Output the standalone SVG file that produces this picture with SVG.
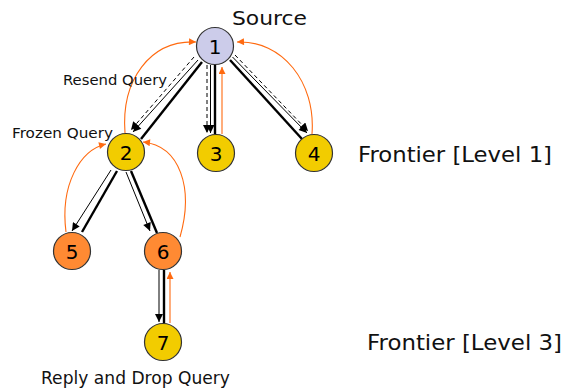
<svg xmlns="http://www.w3.org/2000/svg" width="566" height="390" viewBox="0 0 566 390">
<defs>
<marker id="ab" viewBox="0 0 10 10" refX="10" refY="5" markerWidth="9" markerHeight="8" markerUnits="userSpaceOnUse" orient="auto"><path d="M0,0 L10,5 L0,10 z" fill="#000"/></marker>
<marker id="ao" viewBox="0 0 10 10" refX="10" refY="5" markerWidth="8" markerHeight="7" markerUnits="userSpaceOnUse" orient="auto"><path d="M0,0 L10,5 L0,10 z" fill="#ff6a10"/></marker>
<style>
.t{font-family:"DejaVu Sans","Liberation Sans",sans-serif;fill:#111}
.n{font-family:"DejaVu Sans","Liberation Sans",sans-serif;font-size:20px;fill:#000;text-anchor:middle;dominant-baseline:central}
.c{stroke:#333;stroke-width:1.2}
.thick{stroke:#000;stroke-width:2.4;fill:none}
.thin{stroke:#000;stroke-width:1;fill:none;marker-end:url(#ab)}
.dash{stroke:#000;stroke-width:1;fill:none;stroke-dasharray:4 3;marker-end:url(#ab)}
.or{stroke:#ff6a10;stroke-width:1.1;fill:none;marker-end:url(#ao)}
</style>
</defs>
<rect width="566" height="390" fill="#fff"/>
<g id="connectors">
<line class="thick" x1="202" y1="62" x2="141" y2="139"/>
<line class="thin" x1="198" y1="60" x2="133" y2="132"/>
<line class="dash" x1="194" y1="57" x2="131" y2="130"/>
<line class="dash" x1="207" y1="65" x2="207" y2="133"/>
<line class="thin" x1="210.5" y1="65" x2="210.5" y2="133"/>
<line class="thick" x1="215" y1="65" x2="215" y2="134"/>
<line class="or" x1="222" y1="134" x2="222" y2="67"/>
<line class="thick" x1="230" y1="60" x2="302" y2="139"/>
<line class="thin" x1="232.5" y1="57" x2="307" y2="133"/>
<line class="dash" x1="235" y1="55" x2="308" y2="131"/>
<line class="thin" x1="111" y1="170" x2="72" y2="231"/>
<line class="thick" x1="117" y1="171" x2="82" y2="232"/>
<line class="thin" x1="126" y1="172" x2="150" y2="231"/>
<line class="thick" x1="131" y1="171" x2="157" y2="233"/>
<line class="thin" x1="159" y1="270" x2="159" y2="322"/>
<line class="thick" x1="164" y1="270" x2="164" y2="324"/>
<line class="or" x1="170" y1="323" x2="170" y2="272"/>
<path class="or" d="M125,133 C121,80 150,40 196,42"/>
<path class="or" d="M312,134 C316,82 282,40 237,42"/>
<path class="or" d="M66,232 C60,185 80,150 106,144"/>
<path class="or" d="M180,237 C194,188 180,146 143,142"/>
</g>
<g id="node1"><circle class="c" cx="215" cy="46" r="18.5" fill="#ccccea"/><text class="n" x="215" y="47">1</text></g>
<g id="node2"><circle class="c" cx="126" cy="152" r="18.5" fill="#f2cc00"/><text class="n" x="126" y="153">2</text></g>
<g id="node3"><circle class="c" cx="216" cy="153" r="18.5" fill="#f2cc00"/><text class="n" x="216" y="154">3</text></g>
<g id="node4"><circle class="c" cx="314" cy="153" r="18.5" fill="#f2cc00"/><text class="n" x="314" y="154">4</text></g>
<g id="node5"><circle class="c" cx="72" cy="251" r="18.5" fill="#ff8a33"/><text class="n" x="72" y="252">5</text></g>
<g id="node6"><circle class="c" cx="163" cy="251" r="18.5" fill="#ff8a33"/><text class="n" x="163" y="252">6</text></g>
<g id="node7"><circle class="c" cx="163" cy="342" r="18.5" fill="#f2cc00"/><text class="n" x="163" y="343">7</text></g>
<g id="labels">
<text class="t" x="232" y="25" font-size="20" textLength="75" lengthAdjust="spacingAndGlyphs">Source</text>
<text class="t" x="63" y="85" font-size="14" textLength="104" lengthAdjust="spacingAndGlyphs">Resend Query</text>
<text class="t" x="12" y="138" font-size="14" textLength="101" lengthAdjust="spacingAndGlyphs">Frozen Query</text>
<text class="t" x="358" y="162" font-size="21" textLength="194" lengthAdjust="spacingAndGlyphs">Frontier [Level 1]</text>
<text class="t" x="367" y="350" font-size="21" textLength="195" lengthAdjust="spacingAndGlyphs">Frontier [Level 3]</text>
<text class="t" x="41" y="384" font-size="17" textLength="189" lengthAdjust="spacingAndGlyphs">Reply and Drop Query</text>
</g>
</svg>
